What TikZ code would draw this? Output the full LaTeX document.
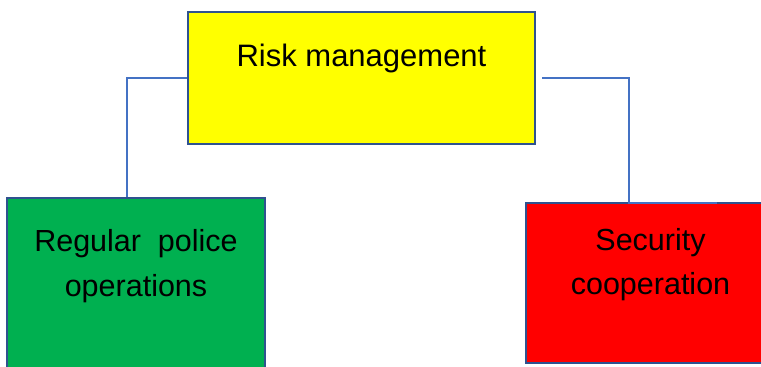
\documentclass[tikz,border=0pt]{standalone}
\usepackage{fontspec}
\setmainfont{Liberation Sans}
\usetikzlibrary{positioning}
\definecolor{boxline}{RGB}{47,82,143}
\definecolor{linkline}{RGB}{68,114,196}
\definecolor{riskyellow}{RGB}{255,255,0}
\definecolor{policegreen}{RGB}{0,176,80}
\definecolor{coopred}{RGB}{255,0,0}
\begin{document}
\begin{tikzpicture}[x=1pt,y=1pt,
    box/.style={draw=boxline, line width=2.8pt, inner sep=0pt},
    boxtext/.style={inner sep=0pt, align=center, font=\fontsize{30.5}{44.5}\selectfont},
    link/.style={draw=linkline, line width=1.8pt}]
        % Fix the picture size
        \clip (0,0) rectangle (761,-367);

        % Draw the three boxes
        \node[box, fill=riskyellow, minimum width=347pt, minimum height=132pt] (risk) at (361.5,-78) {};
        \node[box, fill=policegreen, minimum width=258pt, minimum height=180pt] (police) at (136,-288) {};
        \node[box, fill=coopred, minimum width=249pt, minimum height=160pt] (coop) at (650.5,-283) {};

        % Write the texts in the boxes
        \node[boxtext, font=\fontsize{31}{44.5}\selectfont, anchor=north, below=33.5pt of risk.north] (risktext) {Risk management};
        \node[boxtext, anchor=north, below=33pt of police.north] (policetext) {Regular~~police\\operations};
        \node[boxtext, anchor=north, below=26.5pt of coop.north] (cooptext) {Security\\cooperation};

        % Draw the connectors
        \draw[link] (risk.west) -| ([xshift=-9pt]police.north);
        \draw[link] ([xshift=6pt]risk.east) -| ([xshift=-21.5pt,yshift=-1pt]coop.north) -- ([xshift=66.5pt,yshift=-1pt]coop.north);
    \end{tikzpicture}
\end{document}
